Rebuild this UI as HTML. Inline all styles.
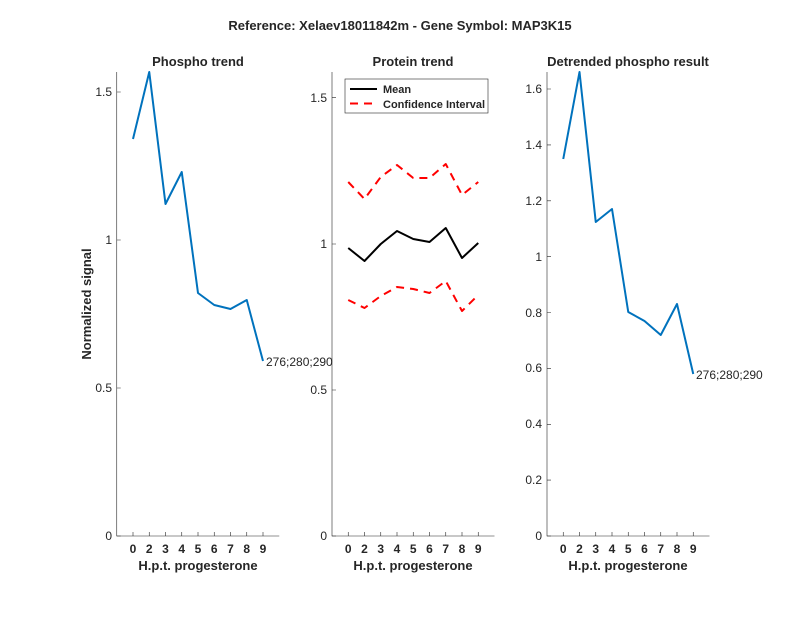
<!DOCTYPE html>
<html><head><style>body{margin:0;background:#fff}svg{display:block}text{font-family:"Liberation Sans",sans-serif;fill:#262626}</style></head>
<body>
<svg width="800" height="618" viewBox="0 0 800 618" xmlns="http://www.w3.org/2000/svg">
<rect width="800" height="618" fill="#fff"/>
<text x="400" y="30" font-size="13" font-weight="bold" text-anchor="middle" fill="#000">Reference:  Xelaev18011842m - Gene Symbol:  MAP3K15</text>
<g stroke="#262626" fill="none" stroke-width="0.6">
<path d="M116.75 72V536H279.25"/>
<path d="M116.75 536h4M116.75 388h4M116.75 240h4M116.75 92h4"/>
<path d="M133 536v-4M149.25 536v-4M165.5 536v-4M181.75 536v-4M198 536v-4M214.25 536v-4M230.5 536v-4M246.75 536v-4M263 536v-4"/>
<path d="M332 72V536H494.5"/>
<path d="M332 536h4M332 390h4M332 244h4M332 97.7h4"/>
<path d="M348.25 536v-4M364.5 536v-4M380.75 536v-4M397 536v-4M413.25 536v-4M429.5 536v-4M445.75 536v-4M462 536v-4M478.25 536v-4"/>
<path d="M547 72V536H709.5"/>
<path d="M547 536h4M547 480.1h4M547 424.3h4M547 368.4h4M547 312.5h4M547 256.6h4M547 200.8h4M547 144.9h4M547 89h4"/>
<path d="M563.25 536v-4M579.5 536v-4M595.75 536v-4M612 536v-4M628.25 536v-4M644.5 536v-4M660.75 536v-4M677 536v-4M693.25 536v-4"/>
</g>
<g font-size="12" text-anchor="end">
<text x="112" y="540">0</text><text x="112" y="392">0.5</text><text x="112" y="244">1</text><text x="112" y="96">1.5</text>
<text x="327" y="540">0</text><text x="327" y="394">0.5</text><text x="327" y="248">1</text><text x="327" y="102">1.5</text>
<text x="542" y="540">0</text><text x="542" y="484">0.2</text><text x="542" y="428">0.4</text><text x="542" y="372">0.6</text><text x="542" y="317">0.8</text><text x="542" y="261">1</text><text x="542" y="205">1.2</text><text x="542" y="149">1.4</text><text x="542" y="93">1.6</text>
</g>
<g font-size="12" font-weight="bold" text-anchor="middle">
<text x="133" y="553">0</text><text x="149.25" y="553">2</text><text x="165.5" y="553">3</text><text x="181.75" y="553">4</text><text x="198" y="553">5</text><text x="214.25" y="553">6</text><text x="230.5" y="553">7</text><text x="246.75" y="553">8</text><text x="263" y="553">9</text>
<text x="348.25" y="553">0</text><text x="364.5" y="553">2</text><text x="380.75" y="553">3</text><text x="397" y="553">4</text><text x="413.25" y="553">5</text><text x="429.5" y="553">6</text><text x="445.75" y="553">7</text><text x="462" y="553">8</text><text x="478.25" y="553">9</text>
<text x="563.25" y="553">0</text><text x="579.5" y="553">2</text><text x="595.75" y="553">3</text><text x="612" y="553">4</text><text x="628.25" y="553">5</text><text x="644.5" y="553">6</text><text x="660.75" y="553">7</text><text x="677" y="553">8</text><text x="693.25" y="553">9</text>
</g>
<g font-size="13" font-weight="bold" text-anchor="middle">
<text x="198" y="570">H.p.t. progesterone</text>
<text x="413" y="570">H.p.t. progesterone</text>
<text x="628" y="570">H.p.t. progesterone</text>
<text x="198" y="66">Phospho trend</text>
<text x="413" y="66">Protein trend</text>
<text x="628" y="66">Detrended phospho result</text>
<text transform="translate(91,304) rotate(-90)">Normalized signal</text>
</g>
<g fill="none" stroke-width="2" stroke-linejoin="round">
<polyline stroke="#0072BD" points="133,139 149.25,72 165.5,204 181.75,172 198,293 214.25,305 230.5,309 246.75,300 263,361"/>
<polyline stroke="#0072BD" points="563.25,159 579.5,72 595.75,222 612,209 628.25,312 644.5,321 660.75,335 677,304 693.25,374"/>
<polyline stroke="#000" points="348.25,248 364.5,261 380.75,244 397,231 413.25,239 429.5,242 445.75,228 462,258 478.25,243"/>
<polyline stroke="#f00" stroke-dasharray="8,6" points="348.25,182 364.5,199 380.75,177 397,165 413.25,178 429.5,178 445.75,164 462,195 478.25,182"/>
<polyline stroke="#f00" stroke-dasharray="8,6" points="348.25,300 364.5,308 380.75,296 397,287 413.25,289 429.5,293 445.75,281 462,311 478.25,295"/>
</g>
<text x="266" y="366" font-size="12" fill="#000">276;280;290</text>
<text x="696" y="379" font-size="12" fill="#000">276;280;290</text>
<rect x="345" y="79" width="143" height="34" fill="#fff" stroke="#262626" stroke-width="0.6"/>
<line x1="350" y1="89" x2="377" y2="89" stroke="#000" stroke-width="2"/>
<line x1="350" y1="103.5" x2="377" y2="103.5" stroke="#f00" stroke-width="2" stroke-dasharray="8,6"/>
<g font-size="11" font-weight="bold"><text x="383" y="93" fill="#000">Mean</text><text x="383" y="108" fill="#000">Confidence Interval</text></g>
</svg>
</body></html>
